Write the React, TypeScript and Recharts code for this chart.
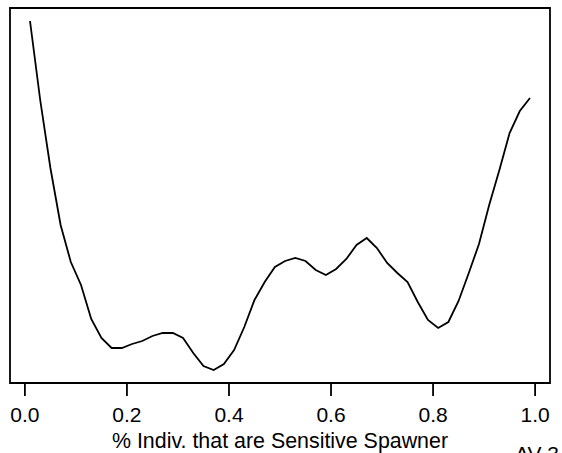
import React from "react";
import { LineChart, Line, XAxis, YAxis, ReferenceArea } from "recharts";

const xValues = [
  0.01, 0.03, 0.05, 0.07, 0.09, 0.11, 0.13, 0.15, 0.17, 0.19,
  0.21, 0.23, 0.25, 0.27, 0.29, 0.31, 0.33, 0.35, 0.37, 0.39,
  0.41, 0.43, 0.45, 0.47, 0.49, 0.51, 0.53, 0.55, 0.57, 0.59,
  0.61, 0.63, 0.65, 0.67, 0.69, 0.71, 0.73, 0.75, 0.77, 0.79,
  0.81, 0.83, 0.85, 0.87, 0.89, 0.91, 0.93, 0.95, 0.97, 0.99,
];
const yValues = [
  3.79, 3.0, 2.32, 1.75, 1.38, 1.15, 0.81, 0.62, 0.52, 0.52,
  0.56, 0.59, 0.64, 0.67, 0.67, 0.62, 0.47, 0.34, 0.3, 0.36,
  0.5, 0.73, 1.0, 1.18, 1.33, 1.39, 1.42, 1.39, 1.3, 1.25,
  1.31, 1.41, 1.55, 1.62, 1.52, 1.37, 1.27, 1.18, 0.98, 0.8,
  0.72, 0.78, 0.99, 1.27, 1.56, 1.95, 2.3, 2.67, 2.89, 3.02,
];
const xTicks = [0, 0.2, 0.4, 0.6, 0.8, 1.0];
const xLabel = "% Indiv. that are Sensitive Spawner";
const cornerLabel = "AV-3";

const data = xValues.map((x, i) => ({ x, y: yValues[i] }));
const xDomain: [number, number] = [-0.0292, 1.0292];
const yDomain: [number, number] = [0.17, 3.92];
const FONT = "'Liberation Sans', Arial, sans-serif";

export default function App() {
  return (
    <div style={{ position: "absolute", left: 0, top: 0, width: 562, height: 453, background: "#fff" }}>
      <LineChart
        width={562}
        height={453}
        data={data}
        margin={{ top: 8, right: 12, left: 10, bottom: 0 }}
        style={{ fontFamily: FONT }}
      >
        <XAxis
          dataKey="x"
          type="number"
          domain={xDomain}
          ticks={xTicks}
          allowDataOverflow
          tickFormatter={(v: number) => v.toFixed(1)}
          height={70}
          tickSize={13}
          tickMargin={11}
          axisLine={false}
          tickLine={{ stroke: "#000", strokeWidth: 1.8 }}
          tick={{ fill: "#000", fontSize: 21, fontFamily: FONT }}
          label={{ value: xLabel, position: "insideBottom", offset: 5, fill: "#000", fontSize: 21.4, fontFamily: FONT }}
        />
        <YAxis
          type="number"
          domain={yDomain}
          allowDataOverflow
          width={0}
          hide
        />
        <ReferenceArea
          x1={xDomain[0]}
          x2={xDomain[1]}
          y1={yDomain[0]}
          y2={yDomain[1]}
          fill="none"
          fillOpacity={0}
          stroke="#000"
          strokeWidth={1.8}
          ifOverflow="visible"
        />
        <Line
          type="linear"
          dataKey="y"
          stroke="#000"
          strokeWidth={1.8}
          dot={false}
          activeDot={false}
          isAnimationActive={false}
        />
      </LineChart>
      <svg
        width={562}
        height={453}
        style={{ position: "absolute", left: 0, top: 0, pointerEvents: "none" }}
      >
        <text x={515} y={461} fontSize={21} fontFamily={FONT} fill="#000">
          {cornerLabel}
        </text>
      </svg>
    </div>
  );
}
